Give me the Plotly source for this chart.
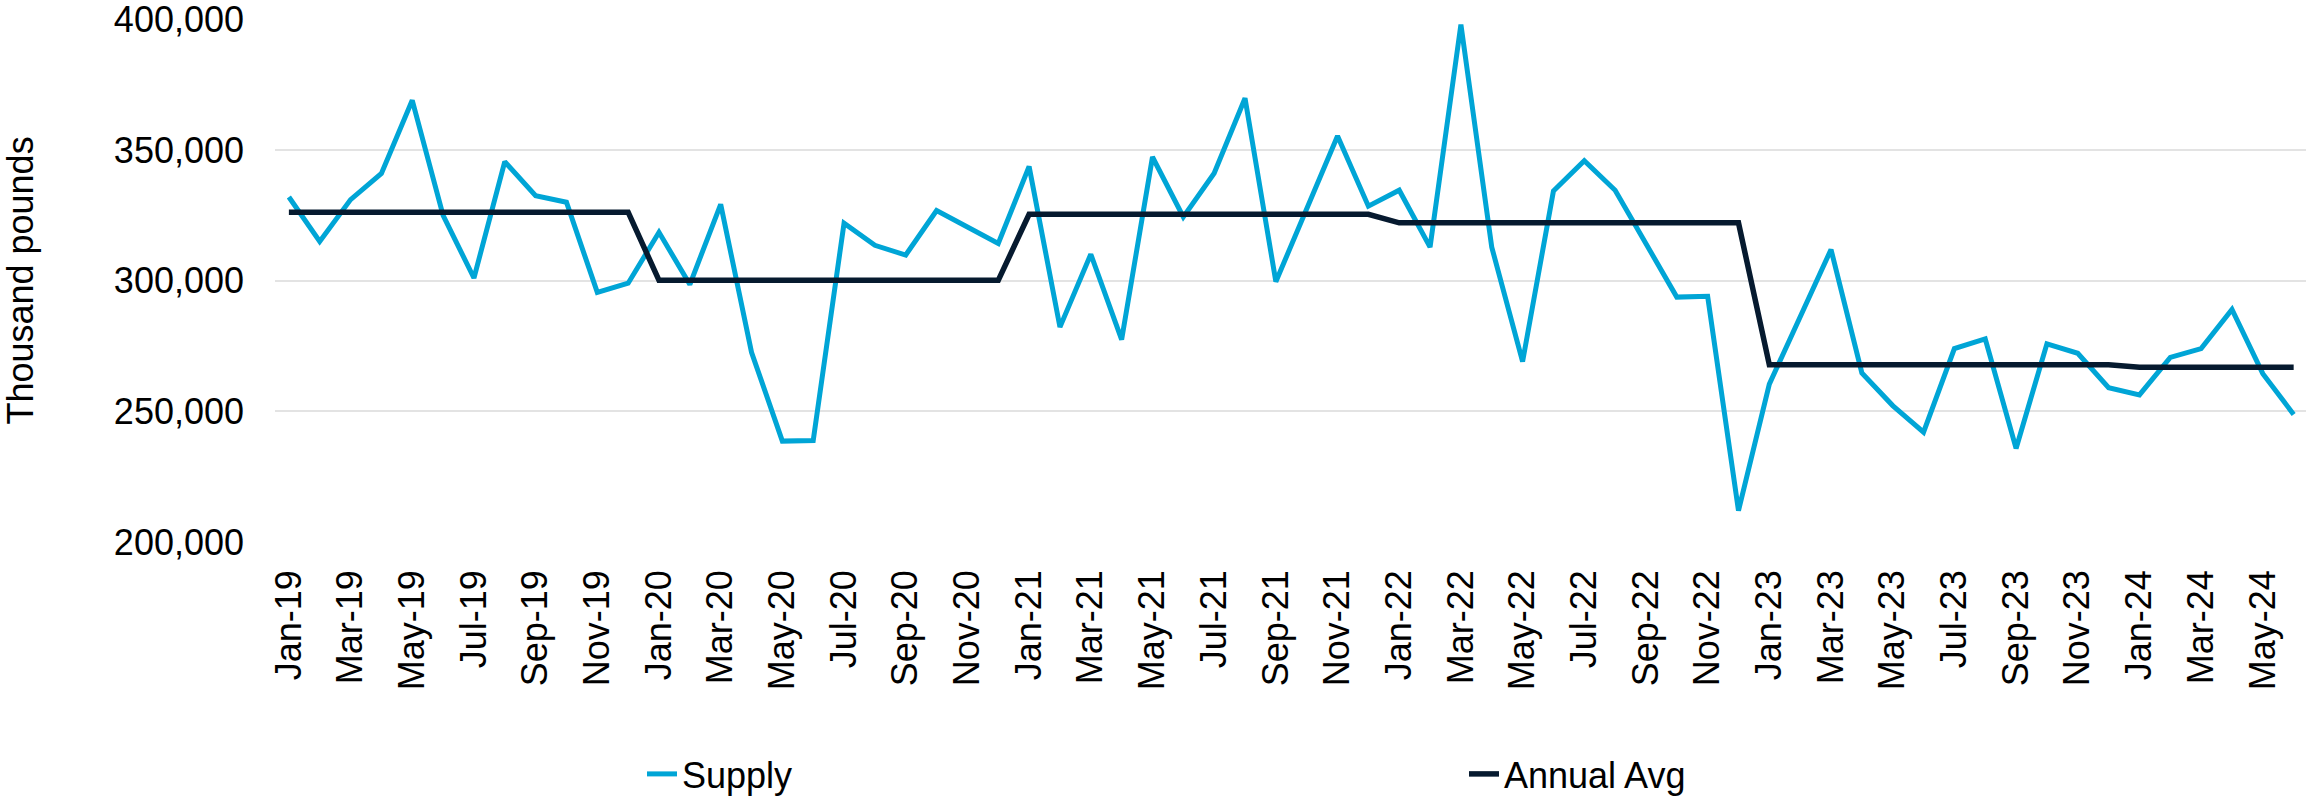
import plotly.graph_objects as go

# ---- data ----
month_names = ["Jan", "Feb", "Mar", "Apr", "May", "Jun", "Jul", "Aug", "Sep", "Oct", "Nov", "Dec"]
years = ["19", "20", "21", "22", "23", "24"]
months = [f"{m}-{y}" for y in years for m in month_names][:66]

supply = [
    332000, 315000, 331000, 341000, 369000, 325000, 301000, 345500, 332500, 330000, 295500, 299000,
    318500, 298500, 329200, 272600, 238600, 238800, 322000, 313500, 309800, 326800, 320500, 314200,
    343700, 282200, 310100, 277400, 347300, 324400, 341100, 369800, 299600, 327700, 355300, 328500,
    334600, 312800, 398000, 312800, 269000, 334300, 345900, 334600, 314200, 293700, 294000, 212000,
    260400, 286400, 311900, 264700, 252200, 242000, 274000, 277700, 235800, 275800, 272200, 259000,
    256300, 270600, 274000, 289000, 264400, 248800,
]

annual_avg_by_year = {"19": 326200, "20": 300100, "21": 325400, "22": 322100, "23": 267800, "24": 266900}
annual_avg = [annual_avg_by_year[m.split("-")[1]] for m in months]

tick_labels = months[::2]
y_ticks = [200000, 250000, 300000, 350000, 400000]

# ---- figure ----
idx = list(range(len(months)))
FONT = "Liberation Sans, Arial, sans-serif"

fig = go.Figure()
fig.add_trace(go.Scatter(
    x=idx, y=supply, mode="lines", name="Supply",
    line=dict(color="#00A5D6", width=5),
))
fig.add_trace(go.Scatter(
    x=idx, y=annual_avg, mode="lines", name="Annual Avg",
    line=dict(color="#061A2F", width=5.5),
))

fig.update_layout(
    width=2306, height=800,
    margin=dict(l=275, r=0, t=19, b=258),
    paper_bgcolor="white", plot_bgcolor="white",
    font=dict(family=FONT, size=36, color="black"),
    showlegend=True,
    legend=dict(
        orientation="h",
        xref="container", yref="container",
        x=642 / 2306, xanchor="left",
        y=1 - 744 / 800, yanchor="top",
        font=dict(size=36, color="black"),
        entrywidthmode="pixels", entrywidth=777,
        bgcolor="rgba(0,0,0,0)",
    ),
    xaxis=dict(
        range=[-0.45, 65.4],
        tickmode="array",
        tickvals=idx[::2],
        ticktext=tick_labels,
        tickangle=-90,
        showgrid=False, zeroline=False, showline=False,
        ticks="",
        ticklabelstandoff=20,
        tickfont=dict(size=36, color="black"),
    ),
    yaxis=dict(
        range=[200000, 400100],
        tickmode="array",
        tickvals=y_ticks,
        ticktext=[f"{v:,}" for v in y_ticks],
        showgrid=True, gridcolor="#E3E3E3", gridwidth=1.5,
        zeroline=False, showline=False, ticks="",
        ticklabelstandoff=30,
        ticklabeloverflow="allow",
        tickfont=dict(size=36, color="black"),
        title=dict(text="Thousand pounds", font=dict(size=36, color="black"), standoff=88),
        automargin=False,
    ),
)

fig.write_html(
    "out.html",
    config={"displayModeBar": False},
    post_script="document.body.style.margin='0';document.body.style.overflow='hidden';",
)
